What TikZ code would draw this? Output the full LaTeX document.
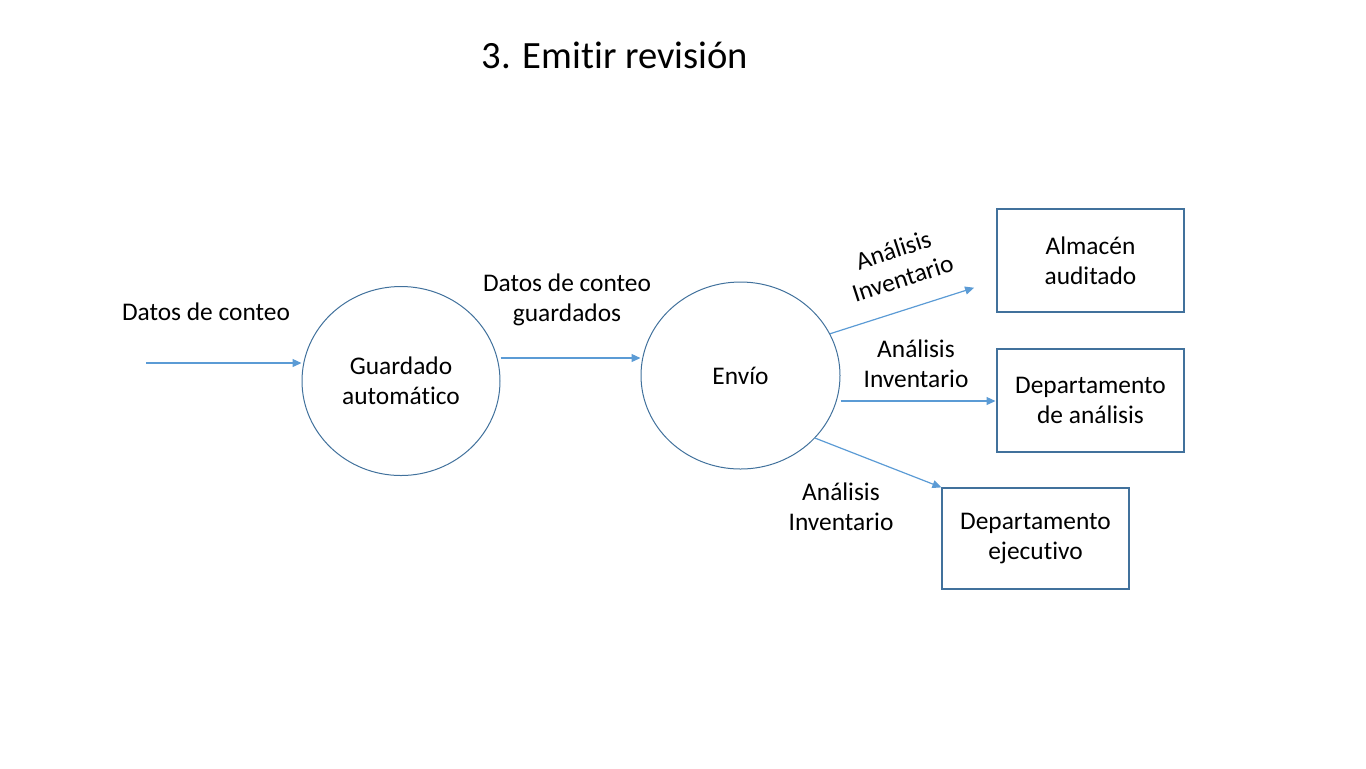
\documentclass[tikz,border=0pt]{standalone}
\usepackage{fontspec}
\setmainfont{Carlito}[Ligatures=NoCommon]
\usetikzlibrary{shapes.geometric,arrows.meta}

\definecolor{flujo}{HTML}{5B9BD5}
\definecolor{borde}{HTML}{41719C}

\tikzset{
    proceso/.style={ellipse, draw=borde, line width=0.5pt, align=center, font=\fontsize{12.7}{15}\selectfont},
    entidad/.style={rectangle, draw=borde, line width=0.6pt, align=center, font=\fontsize{12.7}{15}\selectfont},
    flecha/.style={draw=flujo, line width=0.6pt, -{Triangle[length=4.5pt,width=4pt]}},
    etiqueta/.style={align=center, font=\fontsize{12.7}{15}\selectfont}
}

\begin{document}
\begin{tikzpicture}[x=0.5pt, y=-0.5pt]
    \useasboundingbox (0,0) rectangle (1366,768);

    \node[font=\fontsize{19.3}{22}\selectfont] (titulo) at (615,55) {3. Emitir revisión};

    \node[proceso, minimum width=99pt, minimum height=94.5pt] (guardado) at (401,381) {Guardado\\automático};
    \node[proceso, minimum width=99.5pt, minimum height=93.5pt] (envio) at (740.5,375.5) {Envío};

    \node[entidad, minimum width=93.5pt, minimum height=51.5pt] (almacen) at (1090.5,260.5) {Almacén\\auditado};
    \node[entidad, minimum width=93.5pt, minimum height=51.5pt] (analisis) at (1090.5,400.5) {Departamento\\de análisis};
    \node[entidad, minimum width=93.5pt, minimum height=50.5pt] (ejecutivo) at (1035.5,538.5) {Departamento\\ejecutivo};

    \coordinate (entrada) at (146,363);
    \draw[flecha] (entrada) -- (guardado.west |- entrada);
    \draw[flecha] (guardado.east |- 0,358) -- (envio.west |- 0,358);
    \draw[flecha] (envio.25) -- ++(144,-46);
    \draw[flecha] (envio.east |- 0,401) -- ++(155,0);
    \draw[flecha] (envio.-40) -- (ejecutivo.north west);

    \node[etiqueta] (l1) at (206,312) {Datos de conteo};
    \node[etiqueta] (l2) at (567,300) {Datos de conteo\\guardados};
    \node[etiqueta, rotate=18] (l3) at (898,264) {Análisis\\Inventario};
    \node[etiqueta] (l4) at (916,364) {Análisis\\Inventario};
    \node[etiqueta] (l5) at (841,507) {Análisis\\Inventario};

\end{tikzpicture}
\end{document}
